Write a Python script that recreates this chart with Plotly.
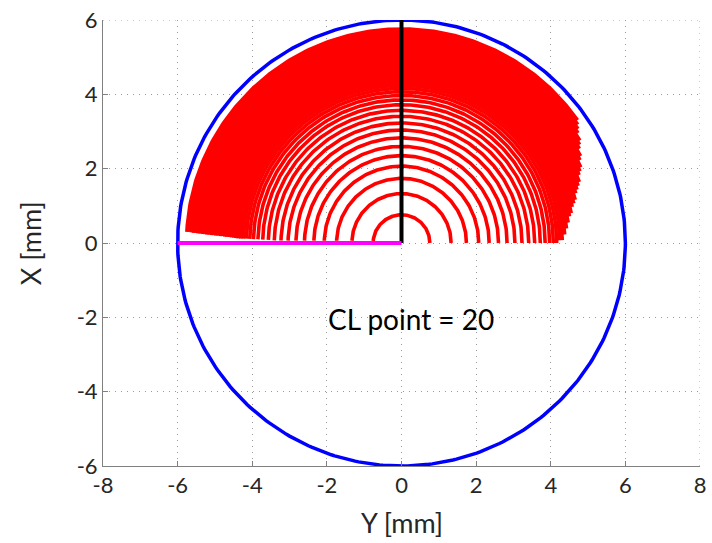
import numpy as np
import plotly.graph_objects as go

# ---- data ----
arc_radius = [0.76, 1.33, 1.74, 2.07, 2.35, 2.60, 2.83, 3.04, 3.23, 3.41, 3.57, 3.72,
              3.85, 3.97, 4.07, 4.16, 4.24, 4.31, 4.38, 4.44, 4.50, 4.56, 4.62, 4.68,
              4.74, 4.80, 4.86, 4.92, 4.98, 5.04, 5.10, 5.16, 5.22, 5.28, 5.34, 5.40,
              5.46, 5.52, 5.58, 5.64, 5.70, 5.76]
arc_start_deg = [0, 0, 0, 0, 0, 0, 0, 0, 0, 0, 0, 0,
                 0, 0, 0, 0, 1, 1, 3, 5, 7, 9, 10, 12,
                 13, 14, 16, 17, 18, 19, 21, 22, 23, 25, 26, 28,
                 29, 30, 32, 33, 34, 35]
arc_end_deg = [176.0, 177.4, 178.0, 178.3, 178.5, 178.6, 178.7, 178.8, 178.8, 178.8, 178.7, 178.6,
               178.5, 178.5, 178.4, 178.4, 178.4, 178.4, 178.4, 178.3, 178.2, 178.1, 178.0, 178.0,
               177.9, 177.8, 177.8, 177.7, 177.7, 177.6, 177.6, 177.5, 177.5, 177.4, 177.4, 177.3,
               177.3, 177.2, 177.2, 177.1, 177.0, 177.0]
boundary_radius = 6.0
tool_axis_x = [0, 0]
tool_axis_y = [0, 6]
feed_x = [-6, 0]
feed_y = [0, 0]
x_ticks = [-8, -6, -4, -2, 0, 2, 4, 6, 8]
y_ticks = [-6, -4, -2, 0, 2, 4, 6]
annotation_text = "CL point = 20"
annotation_pos = (0.25, -2.05)
x_title = "Y [mm]"
y_title = "X [mm]"

# ---- build arc traces ----
ax, ay = [], []
for r, a0, a1 in zip(arc_radius, arc_start_deg, arc_end_deg):
    th = np.radians(np.linspace(a0, a1, 200))
    ax.extend((r * np.cos(th)).tolist() + [None])
    ay.extend((r * np.sin(th)).tolist() + [None])

th = np.linspace(0, 2 * np.pi, 400)
cx = boundary_radius * np.cos(th)
cy = boundary_radius * np.sin(th)

fig = go.Figure()
fig.add_trace(go.Scatter(x=ax, y=ay, mode="lines",
                         line=dict(color="#FF0000", width=3.6), hoverinfo="skip"))
fig.add_trace(go.Scatter(x=cx, y=cy, mode="lines",
                         line=dict(color="#0000FF", width=3.5)))
fig.add_trace(go.Scatter(x=tool_axis_x, y=tool_axis_y, mode="lines",
                         line=dict(color="#000000", width=4)))
fig.add_trace(go.Scatter(x=feed_x, y=feed_y, mode="lines",
                         line=dict(color="#FF00FF", width=4)))

FONT = "Lato, 'Open Sans', sans-serif"
fig.add_annotation(x=annotation_pos[0], y=annotation_pos[1], text=annotation_text,
                   showarrow=False, font=dict(family=FONT, size=28, color="#000000"))

tickfont = dict(family=FONT, size=22, color="#262626")
titlefont = dict(family=FONT, size=27, color="#262626")

fig.add_annotation(xref="paper", yref="paper", x=0.5, y=-0.1256, yanchor="middle",
                   text=x_title, showarrow=False, font=titlefont)
fig.add_annotation(xref="paper", yref="paper", x=-0.122, y=0.5, xanchor="center",
                   yanchor="middle", text=y_title, textangle=-90, showarrow=False,
                   font=titlefont)

grid = dict(showgrid=True, gridcolor="#9A9A9A", griddash="1px,5px", gridwidth=1,
            zeroline=False, showline=True, linecolor="#808080", linewidth=1,
            ticks="inside", ticklen=5, tickcolor="#808080", automargin=False,
            tickfont=tickfont, ticklabeloverflow="allow")

fig.update_layout(
    width=712, height=543,
    margin=dict(l=103, r=12, t=20, b=77),
    paper_bgcolor="white", plot_bgcolor="white",
    showlegend=False,
    xaxis=dict(range=[-8, 8], tickvals=x_ticks, ticktext=[str(v) for v in x_ticks], **grid),
    yaxis=dict(range=[-6, 6], tickvals=y_ticks, ticktext=[str(v) for v in y_ticks], **grid),
)
# dotted top and right borders (grid at range ends)
fig.add_shape(type="line", xref="x", yref="y", x0=-8, x1=8, y0=6, y1=6,
              line=dict(color="#9A9A9A", width=1, dash="1px,5px"), layer="below")
fig.add_shape(type="line", xref="x", yref="y", x0=8, x1=8, y0=-6, y1=6,
              line=dict(color="#9A9A9A", width=1, dash="1px,5px"), layer="below")

# remove the default page margin so the figure fills the window exactly
fig.write_html("out.html", config={"displayModeBar": False},
               post_script="document.body.style.margin='0';document.body.style.overflow='hidden';")
